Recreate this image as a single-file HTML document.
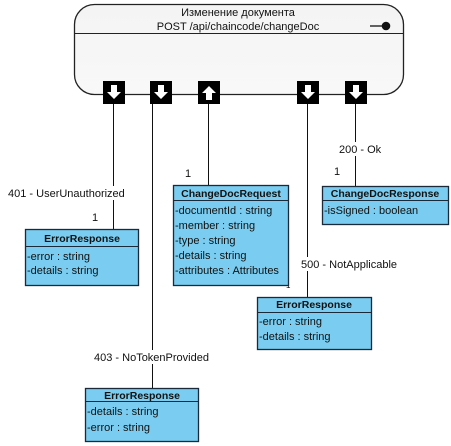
<!DOCTYPE html>
<html><head><meta charset="utf-8"><style>
html,body{margin:0;padding:0;background:#fff;}
svg{display:block;font-family:"Liberation Sans",Arial,sans-serif;}
.t{font-size:11px;fill:#111;}
.h{font-size:10.5px;font-weight:bold;fill:#111;}
</style></head><body>
<svg width="451" height="446" viewBox="0 0 451 446" xmlns="http://www.w3.org/2000/svg">
<defs>
<linearGradient id="g" x1="0" y1="0" x2="0" y2="1"><stop offset="0" stop-color="#f4f4f4"/><stop offset="1" stop-color="#f8f8f8"/></linearGradient>
</defs>
<rect x="74.5" y="4.5" width="329" height="90" rx="20" ry="20" fill="url(#g)" stroke="#222" stroke-width="1.3"/>
<line x1="74.5" y1="33.5" x2="403.5" y2="33.5" stroke="#222" stroke-width="1"/>
<text class="t" x="238" y="16" text-anchor="middle">Изменение документа</text>
<text class="t" x="238" y="30" text-anchor="middle">POST /api/chaincode/changeDoc</text>
<line x1="370" y1="26" x2="383" y2="26" stroke="#111" stroke-width="1.3"/>
<circle cx="386" cy="26" r="4.3" fill="#111"/>

<g stroke="#111" stroke-width="1">
<line x1="113.5" y1="104" x2="113.5" y2="186"/>
<line x1="113.5" y1="200" x2="113.5" y2="229"/>
<line x1="152.5" y1="104" x2="152.5" y2="350"/>
<line x1="152.5" y1="364" x2="152.5" y2="388"/>
<line x1="208.5" y1="104" x2="208.5" y2="185"/>
<line x1="307.5" y1="104" x2="307.5" y2="257"/>
<line x1="307.5" y1="271" x2="307.5" y2="297"/>
<line x1="355.5" y1="104" x2="355.5" y2="142"/>
<line x1="355.5" y1="156" x2="355.5" y2="186"/>
</g>

<g fill="#000">
<rect x="103" y="81" width="22" height="23"/>
<rect x="150" y="81" width="22" height="23"/>
<rect x="198" y="81" width="22" height="23"/>
<rect x="297" y="81" width="22" height="23"/>
<rect x="345" y="81" width="22" height="23"/>
</g>
<g fill="#fff">
<polygon points="111,85 117,85 117,92 121,92 114,99 107,92 111,92"/>
<polygon points="158,85 164,85 164,92 168,92 161,99 154,92 158,92"/>
<polygon points="206,100 212,100 212,93 216,93 209,86 202,93 206,93"/>
<polygon points="305,85 311,85 311,92 315,92 308,99 301,92 305,92"/>
<polygon points="353,85 359,85 359,92 363,92 356,99 349,92 353,92"/>
</g>

<text class="t" x="8" y="197">401 - UserUnauthorized</text>
<text class="t" x="92" y="221">1</text>
<text class="t" x="185" y="177">1</text>
<text class="t" x="339" y="153">200 - Ok</text>
<text class="t" x="334" y="175">1</text>
<text class="t" x="301" y="268">500 - NotApplicable</text>
<text class="t" x="286" y="288" style="font-size:8px">1</text>
<text class="t" x="94" y="361">403 - NoTokenProvided</text>

<g stroke="#1a2a3a" stroke-width="1.3" fill="#7acdf0">
<rect x="25.5" y="229.5" width="113" height="56"/>
<rect x="173.5" y="185.5" width="115" height="100"/>
<rect x="322.5" y="186.5" width="126" height="38"/>
<rect x="257.5" y="297.5" width="114" height="52"/>
<rect x="85.5" y="388.5" width="113" height="53"/>
</g>
<g stroke="#1a2a3a" stroke-width="1">
<line x1="25.5" y1="246.5" x2="138.5" y2="246.5"/>
<line x1="173.5" y1="200.5" x2="288.5" y2="200.5"/>
<line x1="322.5" y1="200.5" x2="448.5" y2="200.5"/>
<line x1="257.5" y1="312.5" x2="371.5" y2="312.5"/>
<line x1="85.5" y1="401.5" x2="198.5" y2="401.5"/>
</g>

<text class="h" x="82" y="242" text-anchor="middle">ErrorResponse</text>
<text class="t" x="27" y="260">-error : string</text>
<text class="t" x="27" y="274">-details : string</text>

<text class="h" x="231" y="197" text-anchor="middle">ChangeDocRequest</text>
<text class="t" x="175" y="214">-documentId : string</text>
<text class="t" x="175" y="229">-member : string</text>
<text class="t" x="175" y="244">-type : string</text>
<text class="t" x="175" y="259">-details : string</text>
<text class="t" x="175" y="274">-attributes : Attributes</text>

<text class="h" x="385" y="197" text-anchor="middle">ChangeDocResponse</text>
<text class="t" x="324" y="214">-isSigned : boolean</text>

<text class="h" x="314" y="308" text-anchor="middle">ErrorResponse</text>
<text class="t" x="259" y="325">-error : string</text>
<text class="t" x="259" y="340">-details : string</text>

<text class="h" x="142" y="399" text-anchor="middle">ErrorResponse</text>
<text class="t" x="87" y="415">-details : string</text>
<text class="t" x="87" y="431">-error : string</text>
</svg>
</body></html>
